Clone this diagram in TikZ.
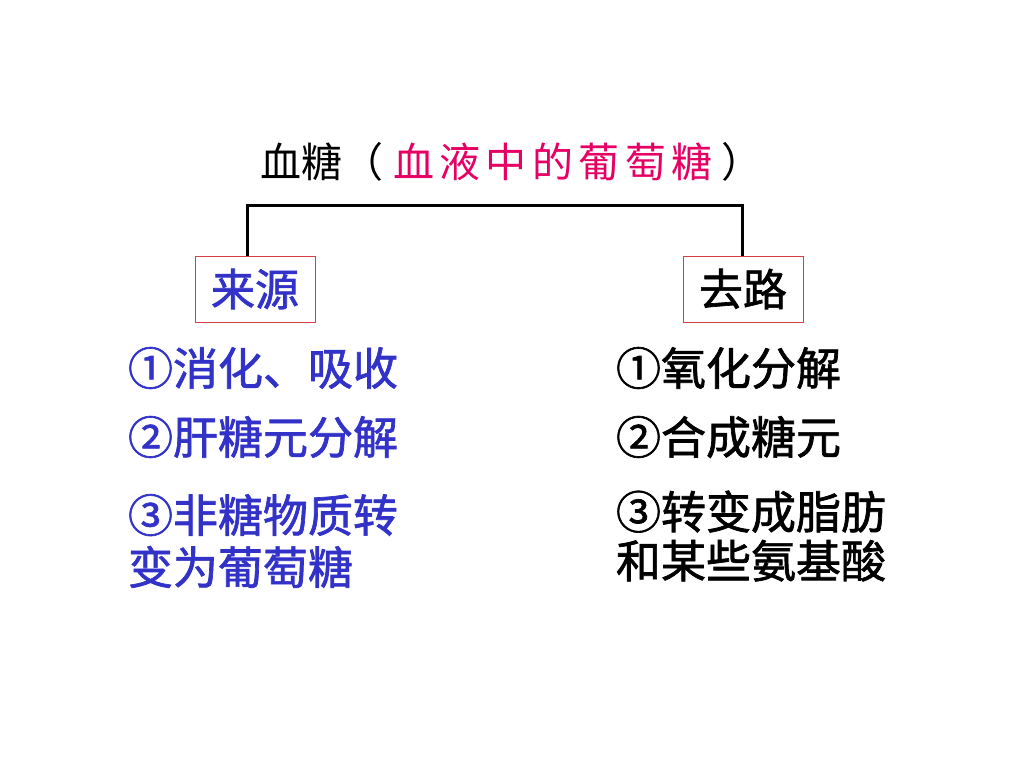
\documentclass[tikz,border=0pt]{standalone}
\usepackage{fontspec}
\newfontfamily\cjk{Noto Sans CJK SC}
\newfontfamily\cjkm{Noto Sans CJK SC}[UprightFeatures={FakeBold=1.5}]
\definecolor{titlered}{RGB}{230,0,100}
\definecolor{listblue}{RGB}{50,50,200}
\definecolor{boxred}{RGB}{220,60,70}
\begin{document}
\begin{tikzpicture}[x=1pt,y=-1pt,
  every node/.style={inner sep=0pt,outer sep=0pt},
  headbox/.style={draw=boxred,line width=0.8pt,minimum width=120pt,minimum height=66pt,font=\cjkm\fontsize{44}{46}\selectfont},
  item/.style={anchor=west,align=left,font=\cjkm\fontsize{45}{52}\selectfont},
  itemr/.style={anchor=west,align=left,font=\cjkm\fontsize{45}{49}\selectfont},
  bar/.style={line width=3pt,black}]
\useasboundingbox (0,0) rectangle (1024,768);
\node[anchor=west,font=\cjk\fontsize{41}{43}\selectfont] (title) at (260,162)
  {血糖（\hspace{10pt}\textcolor{titlered}{血\hspace{5.5pt}液\hspace{5.5pt}中\hspace{5.5pt}的\hspace{5.5pt}葡\hspace{5.5pt}萄\hspace{5.5pt}糖}\hspace{8pt}）};
\node[headbox,text=listblue] (src) at (255,289) {来源};
\node[headbox,text=black] (dst) at (743,289) {去路};
\coordinate (bar) at (495,205);
\draw[bar] ([xshift=-8pt]src.north) |- (bar) -| ([xshift=-1pt]dst.north);
\node[item,text=listblue] (s1) at (128,368) {①消化、吸收};
\node[item,text=listblue] (s2) at (128,437) {②肝糖元分解};
\node[item,text=listblue] (s3) at (128,541) {③非糖物质转\\变为葡萄糖};
\node[itemr,text=black] (d1) at (616,368) {①氧化分解};
\node[itemr,text=black] (d2) at (616,437) {②合成糖元};
\node[itemr,text=black] (d3) at (616,536) {③转变成脂肪\\和某些氨基酸};
\end{tikzpicture}
\end{document}
